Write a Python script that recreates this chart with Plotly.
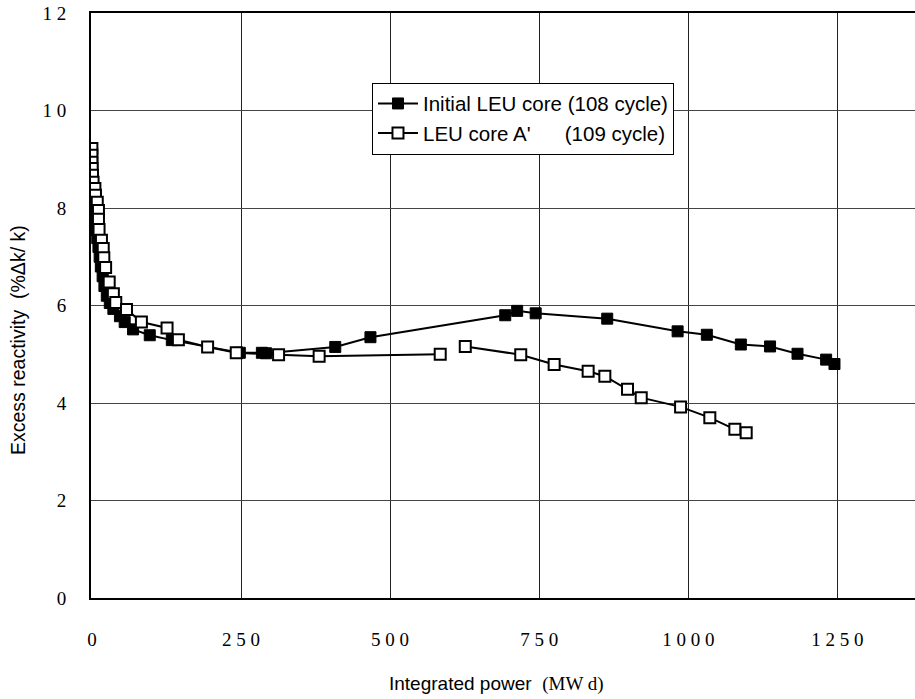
import plotly.graph_objects as go

# Initial LEU core (108 cycle): integrated power (MWd) vs excess reactivity (%dk/k)
leu108_x = [0, 1, 2, 3, 4, 5, 6, 7, 9, 11, 13, 15, 18, 21, 25, 30, 36,
            47, 55, 69, 97, 134, 248, 285, 292, 408, 467, 693, 713, 744,
            864, 982, 1031, 1088, 1137, 1183, 1231, 1245]
leu108_y = [8.60, 8.45, 8.30, 8.15, 8.00, 7.85, 7.70, 7.55, 7.38, 7.20, 7.00, 6.80,
            6.60, 6.40, 6.20, 6.05, 5.93, 5.78, 5.66, 5.51, 5.39, 5.29, 5.03, 5.03,
            5.02, 5.15, 5.35, 5.80, 5.89, 5.84, 5.73, 5.47, 5.40, 5.20, 5.16, 5.01,
            4.89, 4.80]

# LEU core A' (109 cycle); None breaks the line where the curve is interrupted
leua_x = [0, 0, 0, 0.5, 1, 2, 5, 6, 9, 11, 11, 12, 16, 19, 20, 23, 29, 36, 40,
          58, 83, 126, 145, 194, 242, 313, 381, 584, None, 626, 719, 775, 832,
          860, 898, 921, 987, 1036, 1078, 1097]
leua_y = [9.22, 9.08, 8.94, 8.81, 8.67, 8.53, 8.40, 8.26, 8.12, 7.95, 7.77, 7.56,
          7.34, 7.17, 6.98, 6.78, 6.48, 6.24, 6.06, 5.92, 5.66, 5.54, 5.30, 5.15,
          5.03, 4.99, 4.96, 5.00, None, 5.16, 4.99, 4.79, 4.65, 4.55, 4.28, 4.11,
          3.92, 3.70, 3.46, 3.39]

x_ticks = [0, 250, 500, 750, 1000, 1250]
y_ticks = [0, 2, 4, 6, 8, 10, 12]


def spaced(v):
    # digits of the tick labels are set slightly apart
    return " ".join(str(v))


fig = go.Figure()
fig.add_trace(go.Scatter(
    x=leu108_x, y=leu108_y, mode="lines+markers",
    name="Initial LEU core (108 cycle)",
    line=dict(color="black", width=2),
    marker=dict(symbol="square", size=11, color="black",
                line=dict(color="black", width=1)),
))
fig.add_trace(go.Scatter(
    x=leua_x, y=leua_y, mode="lines+markers",
    name="LEU core A'" + "\u00a0" * 6 + "(109 cycle)",
    line=dict(color="black", width=2),
    marker=dict(symbol="square", size=11, color="white",
                line=dict(color="black", width=2)),
))

tick_font = dict(family="Liberation Serif", size=19, color="black")

fig.update_layout(
    width=915, height=699,
    margin=dict(l=91, r=0, t=13, b=101),
    paper_bgcolor="white", plot_bgcolor="white",
    showlegend=True,
    legend=dict(
        x=0.341, y=0.881, xanchor="left", yanchor="top",
        bgcolor="white", bordercolor="black", borderwidth=1,
        font=dict(family="Liberation Sans", size=20.5, color="black"),
        tracegroupgap=0, itemwidth=40,
    ),
    xaxis=dict(
        range=[-1.5, 1380], tickvals=x_ticks,
        ticktext=[spaced(v) for v in x_ticks],
        showgrid=True, gridcolor="#222", gridwidth=1,
        showline=True, linecolor="black", linewidth=2, mirror=True,
        ticks="outside", ticklen=23, tickcolor="rgba(0,0,0,0)",
        tickfont=tick_font, zeroline=False,
    ),
    yaxis=dict(
        range=[0, 12], tickvals=y_ticks,
        ticktext=[spaced(v) for v in y_ticks],
        showgrid=True, gridcolor="#444", gridwidth=1,
        showline=True, linecolor="black", linewidth=2,
        ticks="outside", ticklen=19, tickcolor="rgba(0,0,0,0)",
        tickfont=tick_font, zeroline=False,
    ),
    annotations=[
        dict(text="Integrated power\u00a0\u00a0<span style='font-family:Liberation Serif'>(MW d)</span>",
             xref="paper", yref="paper", x=0.4927, y=-0.147,
             xanchor="center", yanchor="middle", showarrow=False,
             font=dict(family="Liberation Sans", size=19, color="black")),
        dict(text="Excess reactivity\u00a0\u00a0(%\u0394k/ k)",
             xref="paper", yref="paper", x=-0.0886, y=0.441,
             xanchor="center", yanchor="middle", showarrow=False, textangle=-90,
             font=dict(family="Liberation Sans", size=19.5, color="black")),
    ],
)

fig.write_html("out.html")
